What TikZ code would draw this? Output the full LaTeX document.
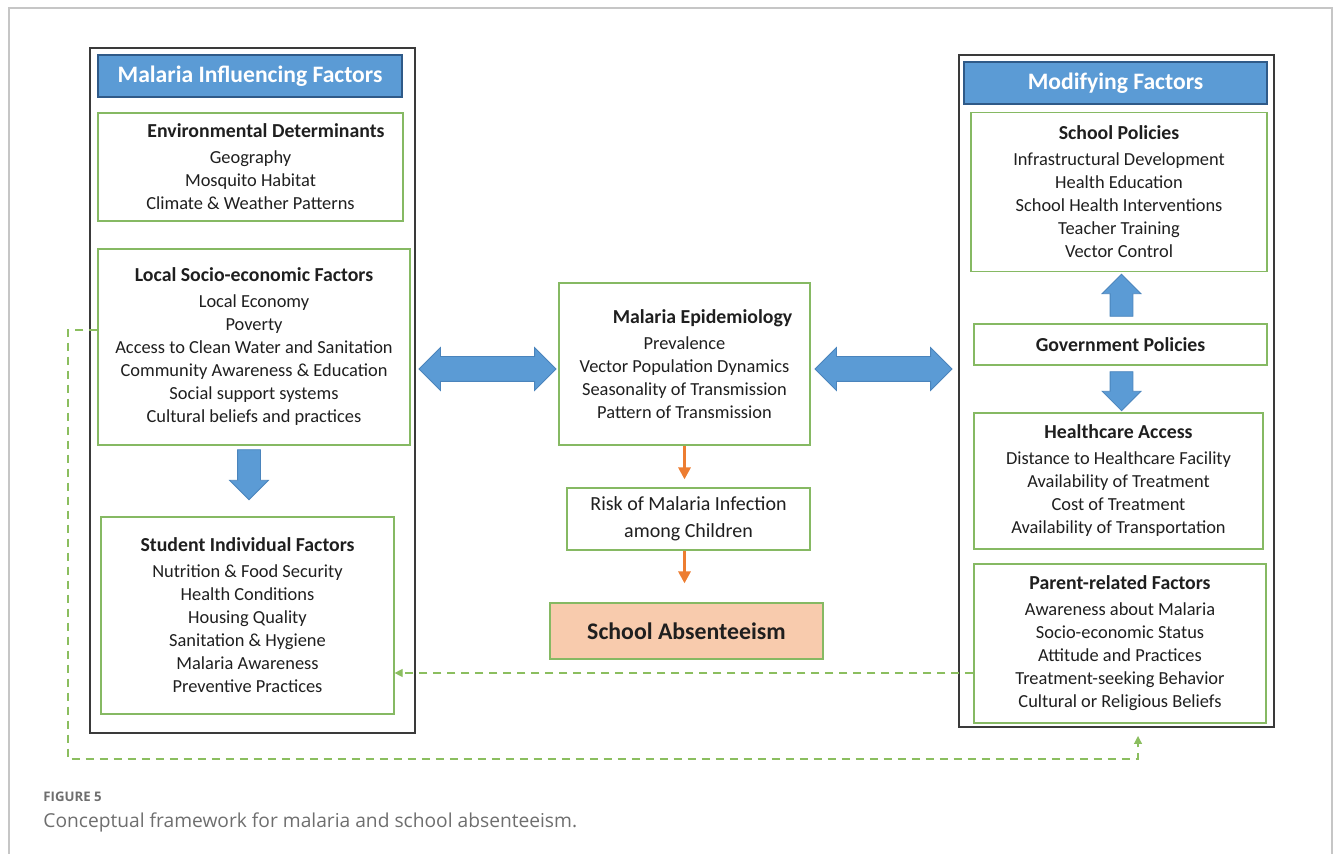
\documentclass[tikz,border=0pt]{standalone}
\usepackage{fontspec}
\setmainfont{Carlito}
\newfontfamily\capfont{Open Sans}
\usepackage{xcolor}
\usetikzlibrary{calc,arrows.meta,shapes.arrows}

\definecolor{hdrblue}{HTML}{5B9BD5}
\definecolor{hdrline}{HTML}{2F5A88}
\definecolor{arrblue}{HTML}{5B9BD5}
\definecolor{arrline}{HTML}{4A84BC}
\definecolor{boxgreen}{HTML}{86B963}
\definecolor{dashgreen}{HTML}{8BBE5F}
\definecolor{orangeline}{HTML}{ED7D31}
\definecolor{peach}{HTML}{F8CBAD}
\definecolor{framegray}{HTML}{3A3A3A}
\definecolor{txtdark}{HTML}{1F1F1F}
\definecolor{capgray}{HTML}{6E6E6E}

\newcommand{\ftitle}[1]{{\fontsize{9.9}{11.5}\selectfont\bfseries #1}}

\begin{document}
\begin{tikzpicture}[
    x=0.5pt, y=-0.5pt,
    every node/.style={font=\fontsize{9.2}{11.5}\selectfont, text=txtdark},
    frame/.style={rectangle, draw=framegray, line width=1pt},
    header/.style={rectangle, draw=hdrline, fill=hdrblue, line width=0.8pt, text=white, font=\fontsize{11.8}{14}\selectfont\bfseries},
    box/.style={rectangle, draw=boxgreen, line width=0.6pt, fill=white, align=center, inner sep=0pt},
    bigarrow/.style={fill=arrblue, draw=arrline, line width=0.4pt, inner sep=5.5pt, single arrow head extend=4pt},
    twoway/.style={double arrow, fill=arrblue, draw=arrline, line width=0.4pt, inner sep=6pt, double arrow head extend=4.5pt, minimum height=68.5pt},
    arrow/.style={-{Triangle[length=6pt,width=6pt]}, draw=orangeline, line width=1.6pt},
    link/.style={-{Triangle[length=4pt,width=4pt]}, draw=dashgreen, line width=0.6pt, dash pattern=on 4pt off 3pt},
]
\useasboundingbox (0,0) rectangle (1333,854);
\draw[draw=gray!45, line width=0.7pt] (9,854) -- (9,8) -- (1332,8) -- (1332,854);

% left column
\node[frame, minimum width=162.5pt, minimum height=342.5pt] (bigL) at (252.5,390.5) {};
\node[header, minimum width=152pt, minimum height=21pt] (hdrL) at (250,76) {Malaria Influencing Factors};
\node[box, minimum width=152.5pt, minimum height=54pt] (env) at (250.5,167) {\hspace*{15.5pt}\ftitle{Environmental Determinants}\\[1.5pt] Geography\\ Mosquito Habitat\\ Climate \& Weather Patterns};
\node[box, minimum width=156pt, minimum height=98pt] (socio) at (254,347) {\ftitle{Local Socio-economic Factors}\\[1.5pt] Local Economy\\ Poverty\\ Access to Clean Water and Sanitation\\ Community Awareness \& Education\\ Social support systems\\ Cultural beliefs and practices};
\node[bigarrow, single arrow, shape border rotate=270, minimum height=25pt] (arrL) at (249,469) {};
\node[box, minimum width=146.5pt, minimum height=98.5pt] (student) at (247.5,615.5) {\ftitle{Student Individual Factors}\\[1.5pt] Nutrition \& Food Security\\ Health Conditions\\ Housing Quality\\ Sanitation \& Hygiene\\ Malaria Awareness\\ Preventive Practices};

% middle column
\node[box, minimum width=125.5pt, minimum height=81pt] (epi) at (684.5,364) {\hspace*{18pt}\ftitle{Malaria Epidemiology}\\[1.5pt] Prevalence\\ Vector Population Dynamics\\ Seasonality of Transmission\\ Pattern of Transmission};
\node[box, minimum width=121.5pt, minimum height=31pt, font=\fontsize{10}{13.5}\selectfont] (risk) at (688.5,519) {Risk of Malaria Infection\\ among Children};
\node[box, fill=peach, minimum width=136.5pt, minimum height=28pt, font=\fontsize{11.9}{14}\selectfont\bfseries] (absent) at (686.5,631) {School Absenteeism};
\node[twoway] (dblL) at (487.5,369) {};
\node[twoway] (dblR) at (883.5,369) {};

% right column
\node[frame, minimum width=157.5pt, minimum height=336pt] (bigR) at (1116.5,391) {};
\node[header, minimum width=151.5pt, minimum height=21pt] (hdrR) at (1115.5,83) {Modifying Factors};
\node[box, minimum width=148pt, minimum height=79.5pt] (schoolpol) at (1119,192) {\ftitle{School Policies}\\[1.5pt] Infrastructural Development\\ Health Education\\ School Health Interventions\\ Teacher Training\\ Vector Control};
\node[bigarrow, single arrow, shape border rotate=90, minimum height=21pt] (arrUp) at (1121.5,301) {};
\node[box, minimum width=146.5pt, minimum height=20.5pt] (gov) at (1120.5,344.5) {\ftitle{Government Policies}};
\node[bigarrow, single arrow, shape border rotate=270, minimum height=19.5pt] (arrDown) at (1121.5,385.5) {};
\node[box, minimum width=144.5pt, minimum height=68pt] (health) at (1118.5,481) {\ftitle{Healthcare Access}\\[1.5pt] Distance to Healthcare Facility\\ Availability of Treatment\\ Cost of Treatment\\ Availability of Transportation};
\node[box, minimum width=146pt, minimum height=79.5pt] (parent) at (1120,643.5) {\ftitle{Parent-related Factors}\\[1.5pt] Awareness about Malaria\\ Socio-economic Status\\ Attitude and Practices\\ Treatment-seeking Behavior\\ Cultural or Religious Beliefs};

% connectors
\draw[arrow, shorten >=4pt] (epi.south) -- (epi.south |- risk.north);
\draw[arrow, shorten >=9.5pt] (risk.south -| epi.south) -- (absent.north -| epi.south);
\draw[link] ($(parent.west)+(0,29.5)$) -- ($(student.east)+(0,57.5)$);
\coordinate (loopL) at (68,759);
\coordinate (loopR) at (1138,759);
\draw[link, shorten >=4pt] ($(socio.west)+(0,-17)$) -| (loopL) -- (loopR) -- (loopR |- bigR.south);

% caption
\node[anchor=west, inner sep=0pt, font=\capfont\fontsize{6.6}{9}\selectfont\bfseries, text=capgray] (figlabel) at (43,797) {FIGURE 5};
\node[anchor=west, inner sep=0pt, font=\capfont\fontsize{9.6}{12}\selectfont, text=capgray] (caption) at (43,822) {Conceptual framework for malaria and school absenteeism.};
\end{tikzpicture}
\end{document}
